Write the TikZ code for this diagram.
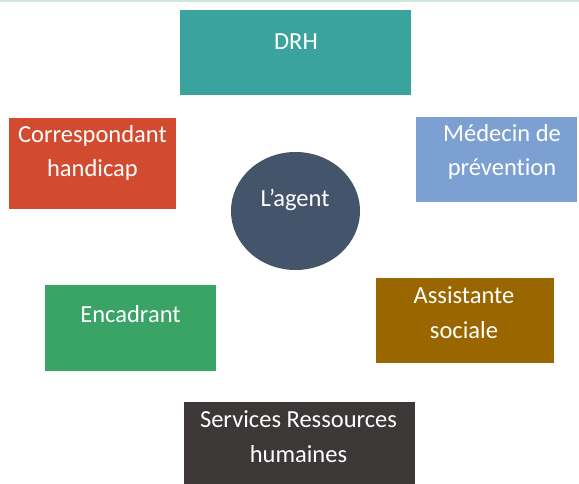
\documentclass[tikz,border=0pt]{standalone}
\usepackage{fontspec}
\usetikzlibrary{shapes.geometric}
\setmainfont[Ligatures=CommonOff]{Carlito}
\definecolor{topline}{HTML}{CDEBDA}
\definecolor{cdrh}{HTML}{3BA39E}
\definecolor{ccorr}{HTML}{D24B30}
\definecolor{cagent}{HTML}{44546A}
\definecolor{cmed}{HTML}{7DA0D3}
\definecolor{cass}{HTML}{996600}
\definecolor{cenc}{HTML}{3AA467}
\definecolor{cserv}{HTML}{3B3837}
\tikzset{
  box/.style={rectangle, inner sep=0pt, draw=none},
  lbl/.style={anchor=base, inner sep=0pt, text=white, font=\fontsize{24.5}{34}\selectfont}
}
\begin{document}
\begin{tikzpicture}[x=1pt,y=-1pt]
\useasboundingbox (0,0) rectangle (579,484);
\fill[topline] (0,0) rectangle (579,2);
% boxes
\node[box, fill=cdrh, minimum width=231pt, minimum height=85pt] (drh) at (295.5,52.5) {};
\node[box, fill=ccorr, minimum width=167pt, minimum height=91pt] (corr) at (92.5,163.5) {};
\node[ellipse, inner sep=0pt, fill=cagent, minimum width=129pt, minimum height=118pt] (agent) at (295.5,211) {};
\node[box, fill=cmed, minimum width=161pt, minimum height=85pt] (med) at (496.5,159.5) {};
\node[box, fill=cass, minimum width=178pt, minimum height=85pt] (ass) at (465,320.5) {};
\node[box, fill=cenc, minimum width=171pt, minimum height=86pt] (enc) at (130.5,328) {};
\node[box, fill=cserv, minimum width=231pt, minimum height=82pt] (serv) at (299.5,443) {};
% texts
\node[lbl] (tdrh) at (296,49.3) {DRH};
\node[lbl] (tcorr1) at (92.5,143) {Correspondant};
\node[lbl] (tcorr2) at (92.5,177) {handicap};
\node[lbl] (tagent) at (295,207) {L’agent};
\node[lbl] (tmed1) at (502,142) {Médecin de};
\node[lbl] (tmed2) at (502,176) {prévention};
\node[lbl] (tass1) at (464,303) {Assistante};
\node[lbl] (tass2) at (464,338) {sociale};
\node[lbl] (tenc) at (130.5,323) {Encadrant};
\node[lbl] (tserv1) at (298.5,427) {Services Ressources};
\node[lbl] (tserv2) at (298.5,462) {humaines};
\end{tikzpicture}
\end{document}
